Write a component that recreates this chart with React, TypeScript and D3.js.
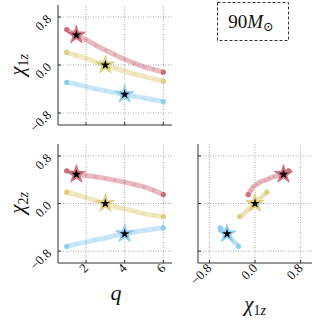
import React from "react";
import * as d3 from "d3";

const qValues = [1, 1.5, 2, 2.5, 3, 3.5, 4, 4.5, 5, 5.5, 6];
const redChi1 = [0.59, 0.5, 0.42, 0.33, 0.25, 0.17, 0.095, 0.03, -0.03, -0.075, -0.12];
const redChi2 = [0.55, 0.49, 0.47, 0.45, 0.42, 0.39, 0.36, 0.32, 0.28, 0.22, 0.15];
const yelChi1 = [0.21, 0.16, 0.11, 0.05, 0.0, -0.05, -0.1, -0.15, -0.19, -0.23, -0.27];
const yelChi2 = [0.19, 0.15, 0.1, 0.05, 0.0, -0.05, -0.09, -0.13, -0.17, -0.2, -0.22];
const bluChi1 = [-0.29, -0.32, -0.36, -0.4, -0.43, -0.46, -0.49, -0.52, -0.55, -0.58, -0.61];
const bluChi2 = [-0.72, -0.68, -0.65, -0.61, -0.58, -0.54, -0.51, -0.48, -0.45, -0.43, -0.41];
const starIndex = [1, 4, 6]; // red q=1.5, yellow q=3, blue q=4
const seriesColors = ["#CC6677", "#DDCC77", "#88CCEE"];
const qTicks = [2, 4, 6];
const chiTicks = [-0.8, 0.0, 0.8];
const chiTickLabels = ["\u22120.8", "0.0", "0.8"];

const series = [
  { c1: redChi1, c2: redChi2 },
  { c1: yelChi1, c2: yelChi2 },
  { c1: bluChi1, c2: bluChi2 },
];

const FONT = "'DejaVu Serif', 'Liberation Serif', serif";
const TFONT = "'Liberation Serif', 'DejaVu Serif', serif";

type Panel = {
  x: d3.ScaleLinear<number, number>;
  y: d3.ScaleLinear<number, number>;
};

function Axes({ p, xt, yt }: { p: Panel; xt: number[]; yt: number[] }) {
  const [x0, x1] = p.x.range();
  const [y0, y1] = p.y.range();
  return (
    <g>
      {xt.map((t) => (
        <line key={"gx" + t} x1={p.x(t)} x2={p.x(t)} y1={y0} y2={y1} stroke="#888" strokeWidth={0.7} strokeDasharray="1,1.5" />
      ))}
      {yt.map((t) => (
        <line key={"gy" + t} x1={x0} x2={x1} y1={p.y(t)} y2={p.y(t)} stroke="#888" strokeWidth={0.7} strokeDasharray="1,1.5" />
      ))}
      <line x1={x0} x2={x1} y1={y0} y2={y0} stroke="#333" strokeWidth={1} />
      <line x1={x0} x2={x0} y1={y0} y2={y1} stroke="#333" strokeWidth={1} />
      {xt.map((t) => (
        <line key={"tx" + t} x1={p.x(t)} x2={p.x(t)} y1={y0} y2={y0 - 3} stroke="#333" strokeWidth={1} />
      ))}
      {yt.map((t) => (
        <line key={"ty" + t} x1={x0} x2={x0 + 3} y1={p.y(t)} y2={p.y(t)} stroke="#333" strokeWidth={1} />
      ))}
    </g>
  );
}

function Curves({ p, xs, ys }: { p: Panel; xs: number[][]; ys: number[][] }) {
  const starBig = d3.symbol(d3.symbolStar, 105)();
  const starSmall = d3.symbol(d3.symbolStar, 28)();
  return (
    <g>
      {xs.map((xa, k) => {
        const pts: [number, number][] = xa.map((v, i) => [p.x(v), p.y(ys[k][i])]);
        const path = d3.line().curve(d3.curveCatmullRom)(pts) || "";
        return (
          <g key={k}>
            <path d={path} fill="none" stroke={seriesColors[k]} strokeWidth={5} strokeOpacity={0.45} strokeLinecap="round" />
            {pts.map((pt, i) => (
              <circle key={i} cx={pt[0]} cy={pt[1]} r={1.6} fill={seriesColors[k]} fillOpacity={0.25} />
            ))}
            <circle cx={pts[0][0]} cy={pts[0][1]} r={2.6} fill={seriesColors[k]} fillOpacity={0.9} />
            <circle cx={pts[pts.length - 1][0]} cy={pts[pts.length - 1][1]} r={2.6} fill={seriesColors[k]} fillOpacity={0.9} />
          </g>
        );
      })}
      {xs.map((xa, k) => {
        const i = starIndex[k];
        const cx = p.x(xa[i]);
        const cy = p.y(ys[k][i]);
        return (
          <g key={"s" + k} transform={`translate(${cx},${cy})`}>
            <path d={starBig || ""} fill={seriesColors[k]} fillOpacity={0.9} stroke={seriesColors[k]} strokeWidth={0.8} />
            <path d={starSmall || ""} fill="#000" />
          </g>
        );
      })}
    </g>
  );
}

function ChiLabel({ x, y, idx, rotate }: { x: number; y: number; idx: string; rotate?: boolean }) {
  return (
    <text
      x={x}
      y={y}
      fontFamily={TFONT}
      fontSize={21}
      textAnchor="middle"
      fill="#111"
      transform={rotate ? `rotate(-90,${x},${y})` : undefined}
    >
      <tspan fontStyle="italic">χ</tspan>
      <tspan fontSize={14} dy={4}>{idx}</tspan>
      <tspan fontSize={14} fontStyle="italic">z</tspan>
    </text>
  );
}

export default function App() {
  const W = 319;
  const H = 321;
  const qx = d3.scaleLinear().domain([0.55, 6.45]).range([58, 172]);
  const yTop = d3.scaleLinear().domain([-1, 1]).range([125, 5]);
  const yBot = d3.scaleLinear().domain([-1, 1]).range([263, 144]);
  const cx = d3.scaleLinear().domain([-1, 1]).range([198, 312]);

  const pTL: Panel = { x: qx, y: yTop };
  const pBL: Panel = { x: qx, y: yBot };
  const pBR: Panel = { x: cx, y: yBot };

  const qArr = series.map(() => qValues);

  const yTickLabels = (p: Panel) =>
    chiTicks.map((t, i) => {
      const tx = p.x.range()[0] - 6;
      const ty = p.y(t) + 3;
      return (
        <text key={i} x={tx} y={ty} fontFamily={TFONT} fontSize={13} textAnchor="end" transform={`rotate(-45,${tx},${ty})`} fill="#111">
          {chiTickLabels[i]}
        </text>
      );
    });

  return (
    <svg width={W} height={H} style={{ position: "absolute", left: 0, top: 0, background: "#fff" }}>
      <rect width={W} height={H} fill="#fff" />
      <Axes p={pTL} xt={qTicks} yt={chiTicks} />
      <Curves p={pTL} xs={qArr} ys={series.map((s) => s.c1)} />
      {yTickLabels(pTL)}

      <Axes p={pBL} xt={qTicks} yt={chiTicks} />
      <Curves p={pBL} xs={qArr} ys={series.map((s) => s.c2)} />
      {yTickLabels(pBL)}
      {qTicks.map((t, i) => {
        const tx = qx(t) + 3;
        const ty = 269;
        return (
          <text key={i} x={tx} y={ty} fontFamily={TFONT} fontSize={13} textAnchor="end" transform={`rotate(-45,${tx},${ty})`} fill="#111">
            {String(t)}
          </text>
        );
      })}

      <Axes p={pBR} xt={chiTicks} yt={chiTicks} />
      <Curves p={pBR} xs={series.map((s) => s.c1)} ys={series.map((s) => s.c2)} />
      {chiTicks.map((t, i) => {
        const tx = cx(t) + 3;
        const ty = 269;
        return (
          <text key={i} x={tx} y={ty} fontFamily={TFONT} fontSize={13} textAnchor="end" transform={`rotate(-45,${tx},${ty})`} fill="#111">
            {chiTickLabels[i]}
          </text>
        );
      })}

      <ChiLabel x={24} y={65} idx="1" rotate />
      <ChiLabel x={24} y={203} idx="2" rotate />
      <text x={116} y={300} fontFamily={TFONT} fontSize={22} fontStyle="italic" textAnchor="middle" fill="#111">q</text>
      <ChiLabel x={255} y={311} idx="1" />

      <rect x={217.5} y={2.5} width={71} height={38} fill="#fff" stroke="#333" strokeWidth={1} strokeDasharray="3,2" />
      <text x={251} y={28} fontFamily={TFONT} fontSize={19} textAnchor="middle" fill="#111">
        <tspan>90</tspan>
        <tspan fontStyle="italic">M</tspan>
        <tspan fontSize={13} dy={3}>⊙</tspan>
      </text>
    </svg>
  );
}
